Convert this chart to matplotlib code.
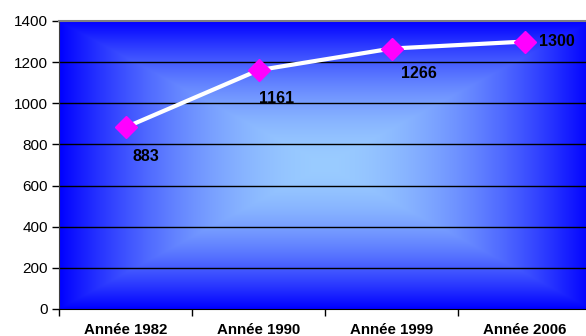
import numpy as np
import matplotlib
matplotlib.use("Agg")
import matplotlib.pyplot as plt
from matplotlib.colors import to_rgb

categories = ["Année 1982", "Année 1990", "Année 1999", "Année 2006"]
values = [883, 1161, 1266, 1300]
yticks = [0, 200, 400, 600, 800, 1000, 1200, 1400]
# label offsets in pixels (dx, dy)
label_offsets = [(7, -29), (1, -28), (9, -25), (14, 0)]

plt.rcParams['font.family'] = ['Liberation Sans', 'DejaVu Sans']

W, H = 586, 336
fig = plt.figure(figsize=(W / 100, H / 100), dpi=100)
left_px, right_px, top_px, bot_px = 59, 591, 21, 309
ax = fig.add_axes([left_px / W, (H - bot_px) / H, (right_px - left_px) / W, (bot_px - top_px) / H])

# gradient background (rectangular from center)
n = 400
u = np.linspace(-1, 1, n)
U, V = np.meshgrid(u, u)
t = np.maximum(np.abs(U), np.abs(V))
t = np.clip(t, 0, 1) ** 1.8
c0 = np.array(to_rgb("#9ACCFF"))
c1 = np.array(to_rgb("#0000FF"))
img = c0[None, None, :] * (1 - t[..., None]) + c1[None, None, :] * t[..., None]
ax.imshow(img, extent=[-0.5, 3.5, 0, 1400], aspect='auto', zorder=0, interpolation='bilinear')

x = np.arange(len(categories))
ax.set_xlim(-0.5, 3.5)
ax.set_ylim(0, 1400)
for yv in yticks[1:-1]:
    ax.axhline(yv, color='black', lw=1.0, zorder=1)

ax.plot(x, values, color='white', lw=3, zorder=3)
ax.plot(x, values, linestyle='none', marker='D', color='#FF00FF', markersize=11.5, zorder=4)

for xi, v, (dx, dy) in zip(x, values, label_offsets):
    ax.annotate(str(v), (xi, v), xytext=(dx, dy), textcoords='offset pixels',
                ha='left', va='center', fontsize=11.5, fontweight='bold', color='black', zorder=5)

ax.set_yticks(yticks)
ax.set_yticklabels([str(v) for v in yticks], fontsize=11)
ax.set_xticks([-0.5, 0.5, 1.5, 2.5, 3.5])
ax.set_xticklabels([])
ax.set_xticks(x, minor=True)
ax.set_xticklabels(categories, minor=True, fontsize=10.8, fontweight='bold')
ax.tick_params(axis='x', which='minor', length=0, pad=10)
ax.tick_params(axis='x', which='major', length=5, direction='out', width=1)
ax.tick_params(axis='y', length=5, direction='out', width=1, pad=3)

ax.spines['top'].set_color('#808080')
ax.spines['top'].set_linewidth(1.5)
ax.spines['left'].set_color('#404040')
ax.spines['bottom'].set_color('black')
ax.spines['right'].set_visible(False)

fig.savefig("out.png", dpi=100)
